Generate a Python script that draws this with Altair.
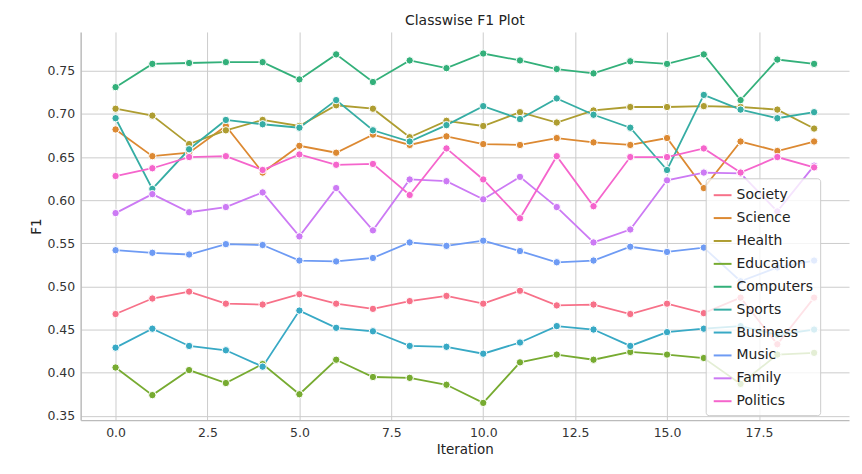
import altair as alt
import pandas as pd

iterations = list(range(20))
series = {
 "Society":   [0.468,0.486,0.494,0.480,0.479,0.491,0.480,0.474,0.483,0.489,0.480,0.495,0.478,0.479,0.468,0.480,0.469,0.487,0.433,0.487],
 "Science":   [0.682,0.651,0.655,0.686,0.632,0.663,0.655,0.676,0.664,0.674,0.665,0.664,0.672,0.667,0.664,0.672,0.614,0.668,0.657,0.668],
 "Health":    [0.706,0.698,0.665,0.681,0.693,0.686,0.710,0.706,0.673,0.692,0.686,0.702,0.690,0.704,0.708,0.708,0.709,0.708,0.705,0.683],
 "Education": [0.406,0.374,0.403,0.388,0.410,0.375,0.415,0.395,0.394,0.386,0.365,0.412,0.421,0.415,0.424,0.421,0.417,0.387,0.421,0.423],
 "Computers": [0.731,0.758,0.759,0.760,0.760,0.740,0.769,0.737,0.762,0.753,0.770,0.762,0.752,0.747,0.761,0.758,0.769,0.716,0.763,0.758],
 "Sports":    [0.695,0.613,0.659,0.693,0.688,0.684,0.716,0.681,0.668,0.687,0.709,0.694,0.718,0.699,0.684,0.635,0.722,0.705,0.695,0.702],
 "Business":  [0.429,0.451,0.431,0.426,0.407,0.472,0.452,0.448,0.431,0.430,0.422,0.435,0.454,0.450,0.431,0.447,0.451,0.454,0.444,0.450],
 "Music":     [0.542,0.539,0.537,0.549,0.548,0.530,0.529,0.533,0.551,0.547,0.553,0.541,0.528,0.530,0.546,0.540,0.545,0.506,0.522,0.530],
 "Family":    [0.585,0.607,0.586,0.592,0.609,0.558,0.614,0.565,0.624,0.622,0.601,0.627,0.592,0.551,0.566,0.623,0.632,0.631,0.587,0.640],
 "Politics":  [0.628,0.637,0.650,0.651,0.635,0.653,0.641,0.642,0.606,0.660,0.624,0.579,0.651,0.593,0.650,0.650,0.660,0.632,0.650,0.638],
}
colors = ["#f77189","#dc8932","#ae9d31","#77ab31","#33b07a","#36ada4","#38a9c5","#6e9bf4","#cc7af4","#f565cc"]
names = list(series.keys())

rows = [{"Iteration": it, "F1": v, "Class": n} for n in names for it, v in zip(iterations, series[n])]
df = pd.DataFrame(rows)

chart = alt.Chart(df).mark_line(
    strokeWidth=1.8,
    point=alt.OverlayMarkDef(filled=True, size=55, stroke="white", strokeWidth=1, opacity=1),
).encode(
    x=alt.X("Iteration:Q", scale=alt.Scale(domain=[-0.95, 19.95], nice=False, zero=False),
            axis=alt.Axis(values=[0, 2.5, 5, 7.5, 10, 12.5, 15, 17.5], format=".1f", title="Iteration")),
    y=alt.Y("F1:Q", scale=alt.Scale(domain=[0.345, 0.795], nice=False, zero=False),
            axis=alt.Axis(values=[0.35,0.40,0.45,0.50,0.55,0.60,0.65,0.70,0.75], format=".2f", title="F1")),
    color=alt.Color("Class:N", sort=names, scale=alt.Scale(domain=names, range=colors),
                    legend=alt.Legend(title=None, orient="none", legendX=628, legendY=147,
                                      symbolType="stroke", symbolStrokeWidth=2, labelFontSize=14,
                                      symbolSize=320, rowPadding=6,
                                      fillColor="rgba(255,255,255,0.8)", strokeColor="#cccccc",
                                      padding=7, cornerRadius=3)),
    order=alt.Order("Iteration:Q"),
).properties(
    width=772, height=390,
    padding={"left": 21, "top": 5, "right": 5, "bottom": 5},
    title=alt.TitleParams("Classwise F1 Plot", fontSize=14, fontWeight="normal", font="DejaVu Sans", color="#222"),
).configure_view(stroke=None).configure_axis(
    labelFont="DejaVu Sans", titleFont="DejaVu Sans", labelFontSize=12.5, titleFontSize=13.5,
    titleFontWeight="normal", labelColor="#333", titleColor="#222",
    gridColor="#cccccc", domainColor="#bbbbbb", domainWidth=1.5, tickColor="#bbbbbb", tickSize=0,
    labelPadding=6,
).configure_legend(labelFont="DejaVu Sans", labelColor="#222")

chart.save("out.html", embed_options={"renderer": "svg", "actions": False})
